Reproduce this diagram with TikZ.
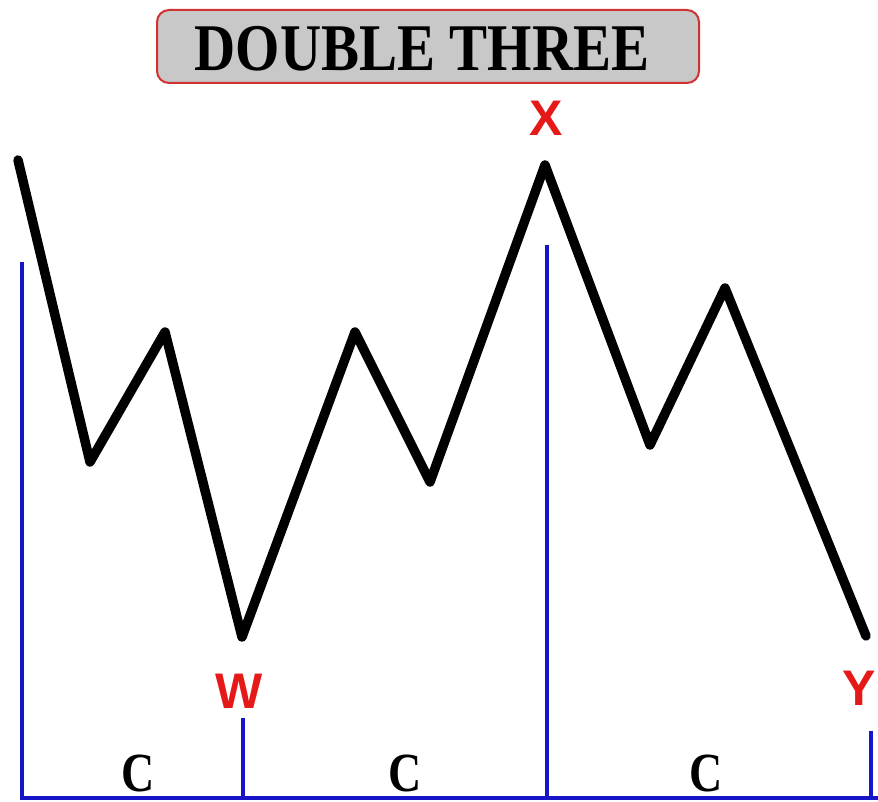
\documentclass[tikz,border=0pt]{standalone}
\usepackage{fontspec}
\setmainfont{Liberation Serif}
\setsansfont{Liberation Sans}
\definecolor{wblue}{RGB}{22,22,200}
\definecolor{wred}{RGB}{230,25,25}
\definecolor{bred}{RGB}{208,50,50}
\definecolor{bgray}{RGB}{200,200,200}
\tikzset{
  wave/.style={line width=9.5pt, line join=round, line cap=round, black},
  axis/.style={line width=3.5pt, wblue},
  ptlabel/.style={text=wred, font=\sffamily\bfseries\fontsize{50}{50}\selectfont, inner sep=0pt},
  clabel/.style={font=\bfseries\fontsize{46}{46}\selectfont, inner sep=0pt},
  titlebox/.style={draw=bred, fill=bgray, line width=2pt, rounded corners=12pt, minimum width=542pt, minimum height=73pt, inner sep=0pt}
}
\begin{document}
\begin{tikzpicture}[x=1pt,y=-1pt]
\useasboundingbox (0,0) rectangle (878,802);
% title
\node[titlebox] (title) at (428,46.5) {};
\node[inner sep=0pt] (titletext) at (422,49) {\scalebox{1}[1.17]{\bfseries\fontsize{57}{57}\selectfont DOUBLE THREE}};
% wave points
\coordinate (p0) at (18,160);
\coordinate (p1) at (90,462);
\coordinate (p2) at (165,332);
\coordinate (w) at (242,637);
\coordinate (p4) at (355,332);
\coordinate (p5) at (430,482);
\coordinate (x) at (545,165);
\coordinate (p7) at (650,445);
\coordinate (p8) at (725,288);
\coordinate (y) at (866,636);
\draw[wave] (p0) -- (p1) -- (p2) -- (w) -- (p4) -- (p5) -- (x) -- (p7) -- (p8) -- (y);
% blue axes
\coordinate (a0t) at (22,262);
\coordinate (a0b) at (22,798);
\coordinate (a1t) at (243,718);
\coordinate (a1b) at (243,798);
\coordinate (a2t) at (547,245);
\coordinate (a2b) at (547,798);
\coordinate (a3t) at (871,731);
\coordinate (a3b) at (871,798);
\coordinate (aend) at (878,798);
\draw[axis] (a0t) -- (a0b) -- (aend);
\draw[axis] (a1t) -- (a1b);
\draw[axis] (a2t) -- (a2b);
\draw[axis] (a3t) -- (a3b);
% labels
\node[ptlabel] (lx) at (546,118) {X};
\node[ptlabel] (lw) at (239,691) {W};
\node[ptlabel] (ly) at (859,688) {Y};
\node[clabel] (c1) at (138,773) {\scalebox{1}[1.2]{C}};
\node[clabel] (c2) at (405,773) {\scalebox{1}[1.2]{C}};
\node[clabel] (c3) at (706,773) {\scalebox{1}[1.2]{C}};
\end{tikzpicture}
\end{document}
